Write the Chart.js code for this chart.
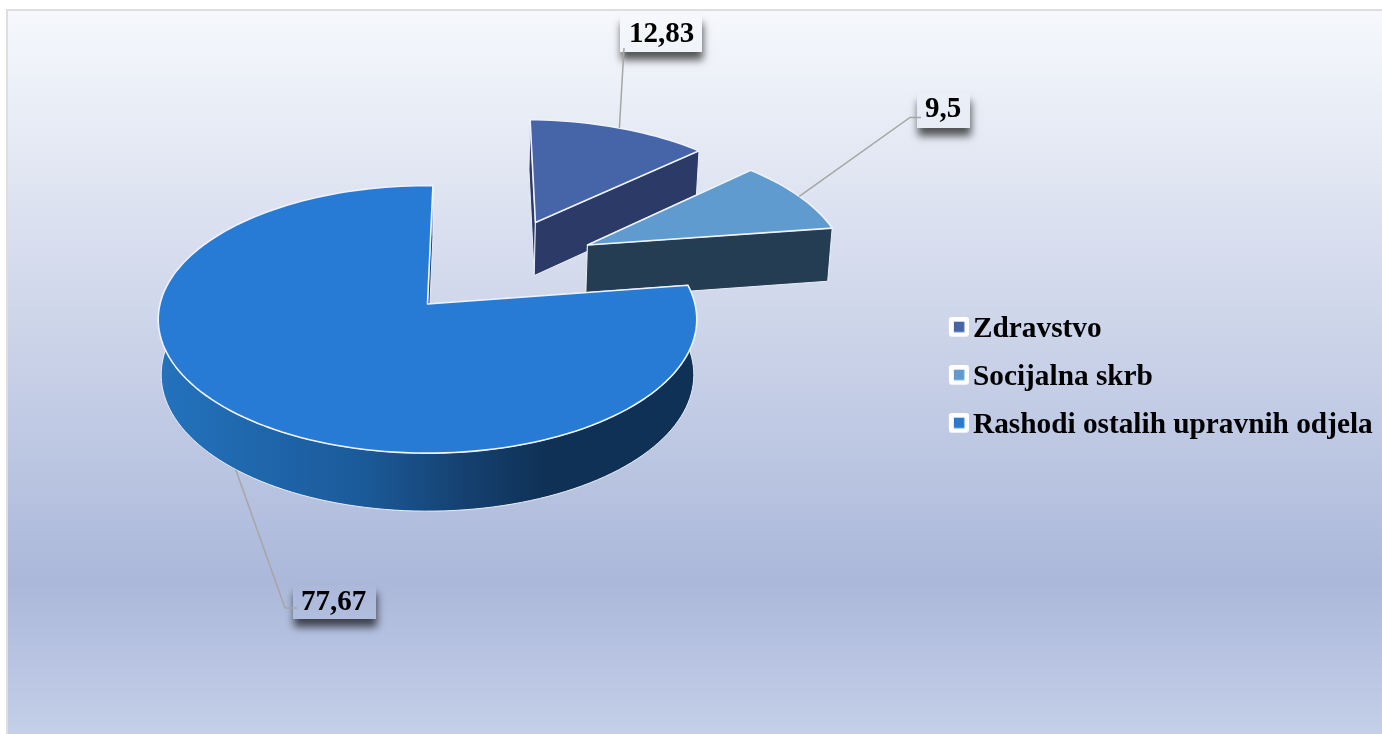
<!DOCTYPE html>
<html>
<head>
<meta charset="utf-8">
<style>html,body{margin:0;padding:0;background:#fff}canvas{display:block}</style>
<script src="https://cdn.jsdelivr.net/npm/chart.js@4"></script>
</head>
<body>
<canvas id="c" width="1382" height="734"></canvas>
<script>
const categories = ['Zdravstvo', 'Socijalna skrb', 'Rashodi ostalih upravnih odjela'];
const values = [12.83, 9.5, 77.67];
const topColors = ['#4664a8', '#5f9bcf', '#287bd5'];
const sideColors = ['#2b3a67', '#253d53', null];

const FONT = '"Liberation Serif", "Times New Roman", serif';
const ROTATION = 1.3, EXPLOSION = 0.4;
const DRIFT = [0.004, 0];
const VIEW = {cx: 427.5, cy: 304, a: 267.5, b: 132, k: 0.115, depth: 55, slope: 3, shrink: 0.989};
const FRAME = {l: 8, t: 11};
const CALLOUTS = [
  {box: [620, 15, 82, 37], tx: 629, ty: 42, to: [[624, 48]]},
  {box: [917, 93, 53, 35], tx: 925, ty: 117, to: [[910, 117.5], [921, 117.5]]},
  {box: [293, 585, 83, 34], tx: 301, ty: 610, to: [[285, 608], [297, 608]], onBase: true}
];

function project(X, Y, low) {
  const w = 1 - VIEW.k * Y;
  let x = VIEW.cx + VIEW.a * X / w, y = VIEW.cy + VIEW.b * Y / w;
  if (low) { x = VIEW.cx + (x - VIEW.cx) * VIEW.shrink; y += VIEW.depth + VIEW.slope * Y; }
  return [x, y];
}
function sliceOffsets(arcs) {
  let big = arcs[0];
  arcs.forEach(a => { if (a.circumference > big.circumference) big = a; });
  const mo = (big.startAngle + big.endAngle) / 2;
  return arcs.map(a => {
    const m = (a.startAngle + a.endAngle) / 2;
    const d = a === big ? [0, 0] : DRIFT;
    return [EXPLOSION * (Math.cos(m) - Math.cos(mo)) + d[0], EXPLOSION * (Math.sin(m) - Math.sin(mo)) + d[1]];
  });
}
function rim(arc, off, low) {
  const n = Math.max(8, Math.ceil((arc.endAngle - arc.startAngle) * 30)), out = [];
  for (let i = 0; i <= n; i++) {
    const t = arc.startAngle + (arc.endAngle - arc.startAngle) * i / n;
    out.push(project(off[0] + Math.cos(t), off[1] + Math.sin(t), low));
  }
  return out;
}
function poly(ctx, pts, fill, stroke, lw) {
  ctx.beginPath();
  pts.forEach((p, i) => i ? ctx.lineTo(p[0], p[1]) : ctx.moveTo(p[0], p[1]));
  ctx.closePath();
  ctx.fillStyle = fill; ctx.fill();
  if (stroke) { ctx.strokeStyle = stroke; ctx.lineWidth = lw; ctx.lineJoin = 'round'; ctx.stroke(); }
}
function backdrop(ctx, h) {
  const g = ctx.createLinearGradient(0, FRAME.t, 0, h);
  g.addColorStop(0, '#f6f8fc');
  g.addColorStop(0.79, '#abb8da');
  g.addColorStop(1, '#c4cfe8');
  return g;
}
const pie3d = {
  id: 'pie3d',
  beforeDraw(chart) {
    const {ctx, width, height} = chart;
    ctx.save();
    ctx.fillStyle = '#fff'; ctx.fillRect(0, 0, width, height);
    ctx.fillStyle = '#dedede'; ctx.fillRect(FRAME.l - 2, FRAME.t - 2, width, height);
    ctx.fillStyle = backdrop(ctx, height); ctx.fillRect(FRAME.l, FRAME.t, width, height);
    ctx.restore();
  },
  afterLayout(chart) {
    const l = chart.legend, pad = l.options.labels.padding;
    const dx = 950.35 - (l.left + pad), dy = 315 - (l.top + pad);
    l.left += dx; l.right += dx; l.top += dy; l.bottom += dy;
  },
  beforeDatasetsDraw(chart) {
    const ctx = chart.ctx, arcs = chart.getDatasetMeta(0).data, offs = sliceOffsets(arcs);
    ctx.save();
    arcs.forEach((arc, i) => {
      const off = offs[i], top = rim(arc, off, false), low = rim(arc, off, true);
      const apexT = project(off[0], off[1], false), apexL = project(off[0], off[1], true);
      let side = sideColors[i];
      if (!side) {
        side = ctx.createLinearGradient(Math.min(...low.map(p => p[0])), 0, Math.max(...low.map(p => p[0])), 0);
        side.addColorStop(0, '#2372bd');
        side.addColorStop(0.38, '#1b5a99');
        side.addColorStop(0.56, '#154272');
        side.addColorStop(0.72, '#0f3156');
        side.addColorStop(1, '#0f3156');
      }
      const edge = '#e9edf6';
      poly(ctx, top.concat(low.slice().reverse()), side, edge, 1);
      poly(ctx, [apexT, top[0], low[0], apexL], side, edge, 1);
      poly(ctx, [apexT, top[top.length - 1], low[low.length - 1], apexL], side, edge, 1);
      poly(ctx, [apexT, ...top], topColors[i], '#eef2fa', 1.6);
    });
    ctx.restore();
    return false;
  },
  afterDraw(chart) {
    const ctx = chart.ctx, arcs = chart.getDatasetMeta(0).data, offs = sliceOffsets(arcs);
    const bg = backdrop(ctx, chart.height);
    ctx.save();
    CALLOUTS.forEach((c, i) => {
      ctx.save();
      ctx.shadowColor = 'rgba(0,0,0,0.65)'; ctx.shadowBlur = 8; ctx.shadowOffsetX = 1; ctx.shadowOffsetY = 8;
      ctx.fillStyle = bg;
      ctx.fillRect(c.box[0], c.box[1], c.box[2], c.box[3]);
      ctx.restore();
      const arc = arcs[i], m = (arc.startAngle + arc.endAngle) / 2;
      const start = project(offs[i][0] + Math.cos(m), offs[i][1] + Math.sin(m), !!c.onBase);
      ctx.beginPath();
      ctx.moveTo(start[0], start[1]);
      c.to.forEach(p => ctx.lineTo(p[0], p[1]));
      ctx.strokeStyle = '#a6a6a6'; ctx.lineWidth = 1.5; ctx.stroke();
      ctx.fillStyle = '#000';
      ctx.font = 'bold 29px ' + FONT;
      ctx.textBaseline = 'alphabetic'; ctx.textAlign = 'left';
      ctx.fillText(String(values[i]).replace('.', ','), c.tx, c.ty);
    });
    ctx.restore();
  }
};
function legendSwatch(color) {
  const s = document.createElement('canvas');
  s.width = 29; s.height = 26;
  const g = s.getContext('2d');
  g.fillStyle = '#fff';
  g.beginPath(); g.roundRect(9, 0, 20, 20, 3); g.fill();
  g.fillStyle = color;
  g.fillRect(14, 5, 10.5, 10.5);
  return s;
}
new Chart(document.getElementById('c'), {
  type: 'pie',
  data: {
    labels: categories,
    datasets: [{data: values, backgroundColor: topColors, borderWidth: 0}]
  },
  plugins: [pie3d],
  options: {
    responsive: false,
    animation: false,
    rotation: ROTATION,
    events: [],
    plugins: {
      tooltip: {enabled: false},
      legend: {
        position: 'right',
        align: 'start',
        labels: {
          usePointStyle: true,
          pointStyleWidth: 8,
          padding: 18.7,
          color: '#000',
          font: {family: FONT, weight: 'bold', size: 29.3},
          generateLabels: chart => categories.map((text, index) => ({
            text, index, fontColor: '#000', fillStyle: topColors[index],
            strokeStyle: topColors[index], lineWidth: 0, hidden: false,
            pointStyle: legendSwatch(topColors[index])
          }))
        }
      }
    }
  }
});
</script>
</body>
</html>
